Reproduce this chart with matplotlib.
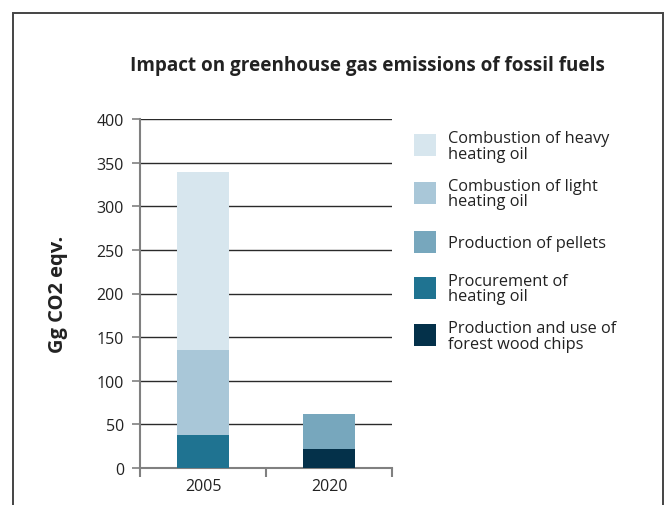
import matplotlib
matplotlib.use("Agg")
import matplotlib.pyplot as plt
from matplotlib.patches import Rectangle, Patch
from matplotlib.legend_handler import HandlerPatch
import numpy as np

plt.rcParams['font.family'] = ['Open Sans', 'DejaVu Sans']

categories = ["2005", "2020"]
series_names = [
    "Production and use of\nforest wood chips",
    "Procurement of\nheating oil",
    "Production of pellets",
    "Combustion of light\nheating oil",
    "Combustion of heavy\nheating oil",
]
wood_chips = [0, 22]
procurement = [38, 0]
pellets = [0, 40]
light_oil = [97.5, 0]
heavy_oil = [203.5, 0]
series_values = [wood_chips, procurement, pellets, light_oil, heavy_oil]
colors = ["#04314a", "#1f7391", "#77a7bd", "#a9c7d8", "#d7e6ee"]
y_ticks = [0, 50, 100, 150, 200, 250, 300, 350, 400]

W, H = 667, 506
fig = plt.figure(figsize=(W / 100, H / 100), dpi=100)

# outer frame
fig.add_artist(Rectangle((13 / W, -0.2), (663 - 13) / W, 1 - 14 / H + 0.2,
                         transform=fig.transFigure, fill=False,
                         edgecolor="#444444", linewidth=1.4))

ax = fig.add_axes([140 / W, 1 - 469 / H, (392 - 140) / W, (469 - 120) / H])
x = np.arange(len(categories))
bottom = np.zeros(len(categories))
handles = []
for name, vals, c in zip(series_names, series_values, colors):
    vals = np.array(vals, dtype=float)
    ax.bar(x, vals, 0.42, bottom=bottom, color=c, label=name, zorder=3)
    bottom += vals
    handles.append(Patch(facecolor=c, label=name))

ax.set_xlim(-0.5, 1.5)
ax.set_ylim(0, 400)
ax.set_yticks(y_ticks)
ax.yaxis.grid(True, color="#2a2a2a", linewidth=1.0, zorder=1)
ax.set_axisbelow(True)
for s in ["top", "right"]:
    ax.spines[s].set_visible(False)
for s in ["left", "bottom"]:
    ax.spines[s].set_color("#808080")
    ax.spines[s].set_linewidth(1.5)
ax.set_xticks(x)
ax.set_xticklabels(categories)
ax.set_xticks([-0.5, 0.5, 1.5], minor=True)
ax.tick_params(axis="x", which="major", length=0, pad=7, labelsize=11.5, labelcolor="#222222")
ax.tick_params(axis="x", which="minor", length=6.5, width=1.5, color="#808080")
ax.tick_params(axis="y", length=6, width=1.2, color="#808080", pad=5.5,
               labelsize=11.5, labelcolor="#222222")
ax.set_ylabel("Gg CO2 eqv.", fontsize=14.5, fontweight="bold", color="#222222")
ax.yaxis.set_label_coords((68 - 140) / 252, (469 - 294) / 349)

fig.text(367 / W, 1 - 66 / H, "Impact on greenhouse gas emissions of fossil fuels",
         ha="center", va="center", fontsize=13.6, fontweight="bold", color="#222222")

FS = 11.8
S = 22 * 72 / 100  # square size in points


def make_square(legend, orig_handle, xdescent, ydescent, width, height, fontsize):
    nlines = orig_handle.get_label().count("\n") + 1
    cy = 0.27 * FS + (1.8 if nlines > 1 else 0.6)
    return Rectangle((-xdescent, cy - S / 2), S, S)


handler = HandlerPatch(patch_func=make_square)
HH = 4.5
leg = fig.legend(handles[::-1], [h.get_label() for h in handles[::-1]],
                 loc="upper left", bbox_to_anchor=(414 / W, 1 - 123 / H),
                 frameon=False, fontsize=FS, borderpad=0, borderaxespad=0,
                 handlelength=S / FS, handleheight=HH, handletextpad=12 * 0.72 / FS,
                 labelspacing=(47.5 * 0.72 - (FS * HH - 0.35 * FS * (HH - 0.7))) / FS,
                 handler_map={Patch: handler})
for t in leg.get_texts():
    t.set_color("#222222")
    t.set_linespacing(0.95)

fig.savefig("out.png", dpi=100)
